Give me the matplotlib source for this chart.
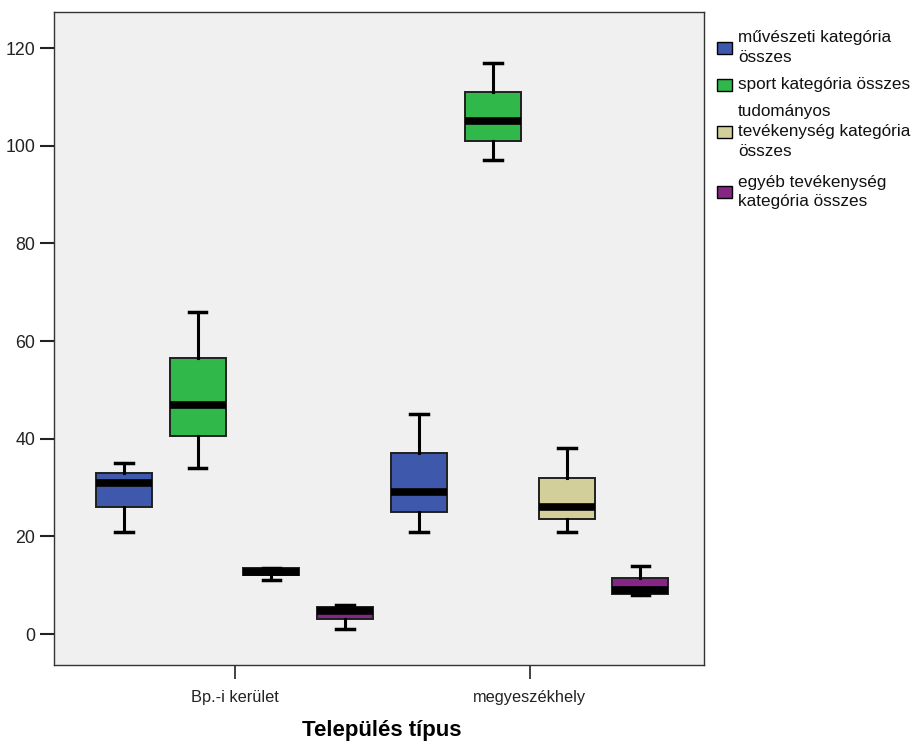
import matplotlib
matplotlib.use('Agg')
import matplotlib.pyplot as plt
import matplotlib.patches as mpatches

plt.rcParams['font.family'] = ['Liberation Sans', 'DejaVu Sans']

groups = ['Bp.-i kerület', 'megyeszékhely']
series = ['művészeti kategória\nösszes',
          'sport kategória összes',
          'tudományos\ntevékenység kategória\nösszes',
          'egyéb tevékenység\nkategória összes']
colors = ['#3e58ac', '#30b84a', '#d3cf9a', '#852585']

# five-number summaries per group: [whislo, q1, med, q3, whishi]
bp_stats = [
    [21, 26, 31, 33, 35],
    [34, 40.5, 47, 56.5, 66],
    [11, 12.1, 12.8, 13.5, 13.5],
    [1, 3, 4.7, 5.6, 6],
]
megye_stats = [
    [21, 25, 29, 37, 45],
    [97, 101, 105, 111, 117],
    [21, 23.5, 26, 32, 38],
    [8, 8.3, 9.1, 11.4, 14],
]
all_stats = [bp_stats, megye_stats]

offsets = [-0.375, -0.125, 0.125, 0.375]
box_w = 0.19

W, H = 913, 742
# legend entry centres, in pixels from the top
legend_rows = [47.5, 85, 131.5, 192]


def mklegend(fig):
    for lab, col, yc in zip(series, colors, legend_rows):
        fig.patches.append(mpatches.Rectangle(
            (717 / W, 1 - (yc + 6) / H), 15 / W, 12 / H,
            facecolor=col, edgecolor='black', linewidth=1,
            transform=fig.transFigure, figure=fig))
        fig.text(738 / W, 1 - yc / H, lab, fontsize=12.3, va='center',
                 ha='left', linespacing=1.4, color='#111111')


def main():
    fig = plt.figure(figsize=(W / 100, H / 100), dpi=100)
    ax = fig.add_axes([0.059, 0.104, 0.712, 0.880])
    ax.set_facecolor('#f0f0f0')

    for gi, stats in enumerate(all_stats):
        for si, vals in enumerate(stats):
            lo, q1, med, q3, hi = vals
            d = dict(whislo=lo, q1=q1, med=med, q3=q3, whishi=hi, fliers=[])
            ax.bxp([d], positions=[gi + offsets[si]], widths=box_w,
                   capwidths=0.06, patch_artist=True,
                   boxprops=dict(facecolor=colors[si], edgecolor='#202020', linewidth=1.4),
                   medianprops=dict(color='black', linewidth=5.5, solid_capstyle='butt'),
                   whiskerprops=dict(color='black', linewidth=2.2),
                   capprops=dict(color='black', linewidth=2.5))

    ax.set_xlim(-0.612, 1.59)
    ax.set_ylim(-6.3, 127.4)
    ax.set_yticks([0, 20, 40, 60, 80, 100, 120])
    ax.set_xticks([0, 1])
    ax.set_xticklabels(groups, fontsize=11.8)
    ax.tick_params(axis='y', length=10, width=1.5, labelsize=12.8, direction='out', colors='#222222')
    ax.tick_params(axis='x', length=10, width=1.2, pad=8, direction='out', colors='#222222')
    for sp in ax.spines.values():
        sp.set_color('#333333')
        sp.set_linewidth(1)
    # axis title in figure coords so it is not cut at the bottom
    fig.text(0.418, 0.016, 'Település típus', fontsize=16, fontweight='bold',
             ha='center', va='center')

    mklegend(fig)

    fig.savefig('out.png', dpi=100)


if __name__ == "__main__":
    main()
